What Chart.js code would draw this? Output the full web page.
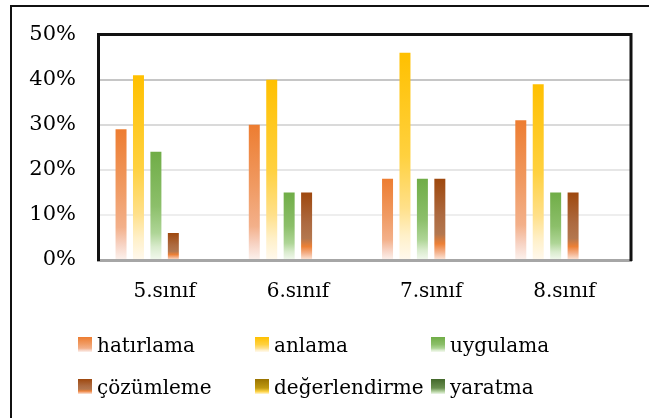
<!DOCTYPE html>
<html><head><meta charset="utf-8">
<script src="https://cdn.jsdelivr.net/npm/chart.js@4"></script>
<style>
html,body{margin:0;padding:0;width:649px;height:418px;overflow:hidden;background:#fff}
#frame{position:absolute;left:10px;top:5px;width:700px;height:500px;border-left:2px solid #111;border-top:2px solid #111;box-sizing:border-box}
#wrap{position:absolute;left:0;top:0;width:649px;height:418px}
#legend{position:absolute;left:0;top:0;width:649px;height:418px;pointer-events:none;font-family:'DejaVu Serif',serif;font-size:20px;color:#000}
.item{position:absolute;white-space:nowrap;line-height:24px;height:24px}
.box{position:absolute;left:0;width:14px;height:15px}
.lbl{position:absolute;left:19px;top:0}
</style></head>
<body>
<div id="frame"></div>
<div id="wrap"><canvas id="c" width="649" height="418"></canvas></div>
<div id="legend"></div>
<script>
// ---- data ----
const categories = ['5.sınıf', '6.sınıf', '7.sınıf', '8.sınıf'];
const seriesNames = ['hatırlama', 'anlama', 'uygulama', 'çözümleme', 'değerlendirme', 'yaratma'];
const hatirlama = [29, 30, 18, 31];
const anlama = [41, 40, 46, 39];
const uygulama = [24, 15, 18, 15];
const cozumleme = [6, 15, 18, 15];
const degerlendirme = [0, 0, 0, 0];
const yaratma = [0, 0, 0, 0];
const yTicks = [0, 10, 20, 30, 40, 50];

// ---- styles (gradient stops top -> bottom) ----
const palettes = [
  [[0,'#ED7D31'],[0.45,'#F09A62'],[0.75,'#F3B08A'],[0.88,'#F7D2C2'],[1,'#FCF2EE']],
  [[0,'#FFC000'],[0.5,'#FFD13F'],[0.75,'#FFE08A'],[0.88,'#FFF0C8'],[1,'#FFF9EE']],
  [[0,'#70AD47'],[0.5,'#8CBF6A'],[0.75,'#AED596'],[0.88,'#D9EBCD'],[1,'#F3F9EF']],
  [[0,'#9E480E'],[0.45,'#AD6A40'],[0.68,'#B3774F'],[0.8,'#EC8036'],[0.9,'#F4B089'],[1,'#FCE9DE']],
  [[0,'#997300'],[0.6,'#C09A10'],[0.85,'#FFD54A'],[1,'#FFF6D8']],
  [[0,'#43682B'],[0.6,'#6A8F50'],[0.85,'#B9D6A6'],[1,'#EEF6EA']]
];
const seriesData = [hatirlama, anlama, uygulama, cozumleme, degerlendirme, yaratma];

function barGradient(ctx, i) {
  const chart = ctx.chart;
  const area = chart.chartArea;
  const stops = palettes[i];
  if (!area || ctx.type !== 'data') return stops[0][1];
  const y = chart.scales.y;
  const top = y.getPixelForValue(ctx.raw);
  const base = y.getPixelForValue(0);
  if (base - top < 1) return stops[0][1];
  const g = chart.ctx.createLinearGradient(0, top, 0, base);
  stops.forEach(s => g.addColorStop(s[0], s[1]));
  return g;
}

const gridColors = {0:'#a6a6a6',10:'#eeeeee',20:'#e6e6e6',30:'#dadada',40:'#c6c6c6',50:'#111111'};

const framePlugin = {
  id: 'plotFrame',
  afterDatasetsDraw(chart) {
    const {ctx, chartArea: a} = chart;
    ctx.save();
    ctx.strokeStyle = '#111';
    ctx.lineWidth = 3;
    ctx.beginPath();
    ctx.moveTo(a.left, a.top);
    ctx.lineTo(a.right, a.top);
    ctx.lineTo(a.right, a.bottom + 1);
    ctx.stroke();
    ctx.restore();
  }
};

new Chart(document.getElementById('c'), {
  type: 'bar',
  data: {
    labels: categories,
    datasets: seriesNames.map((name, i) => ({
      label: name,
      data: seriesData[i],
      backgroundColor: (ctx) => barGradient(ctx, i),
      borderWidth: 0,
      categoryPercentage: 0.785,
      barPercentage: 0.63
    }))
  },
  options: {
    responsive: false,
    animation: false,
    events: [],
    layout: { padding: { left: 0, right: 18, top: 33, bottom: 0 } },
    plugins: { legend: { display: false }, tooltip: { enabled: false } },
    scales: {
      x: {
        grid: { display: false, drawTicks: false },
        border: { display: true, color: '#a6a6a6', width: 3 },
        ticks: { color: '#000', font: { family: "'DejaVu Serif', serif", size: 20 }, padding: 20 },
        afterFit(s) { s.height = 158; }
      },
      y: {
        min: 0, max: 50,
        afterBuildTicks(s) { s.ticks = yTicks.map(v => ({ value: v })); },
        ticks: { color: '#000', font: { family: "'DejaVu Serif', serif", size: 21 }, padding: 22,
                 callback: v => v + '%' },
        grid: { drawTicks: false, lineWidth: 2,
                color: (c) => gridColors[c.tick ? c.tick.value : 0] || '#e6e6e6' },
        border: { display: true, color: '#111', width: 3 },
        afterFit(s) { s.width = 98; }
      }
    }
  },
  plugins: [framePlugin]
});

// ---- legend (HTML) ----
const legendCols = [78, 255, 431];
const legendRows = [333, 375];
const leg = document.getElementById('legend');
seriesNames.forEach((name, i) => {
  const el = document.createElement('div');
  el.className = 'item';
  el.style.left = legendCols[i % 3] + 'px';
  el.style.top = legendRows[Math.floor(i / 3)] + 'px';
  const box = document.createElement('span');
  box.className = 'box';
  box.style.top = '4px';
  box.style.background = 'linear-gradient(to bottom,' + palettes[i].map(s => s[1] + ' ' + (s[0]*100) + '%').join(',') + ')';
  const lbl = document.createElement('span');
  lbl.className = 'lbl';
  lbl.textContent = name;
  el.appendChild(box); el.appendChild(lbl);
  leg.appendChild(el);
});
</script>
</body></html>
